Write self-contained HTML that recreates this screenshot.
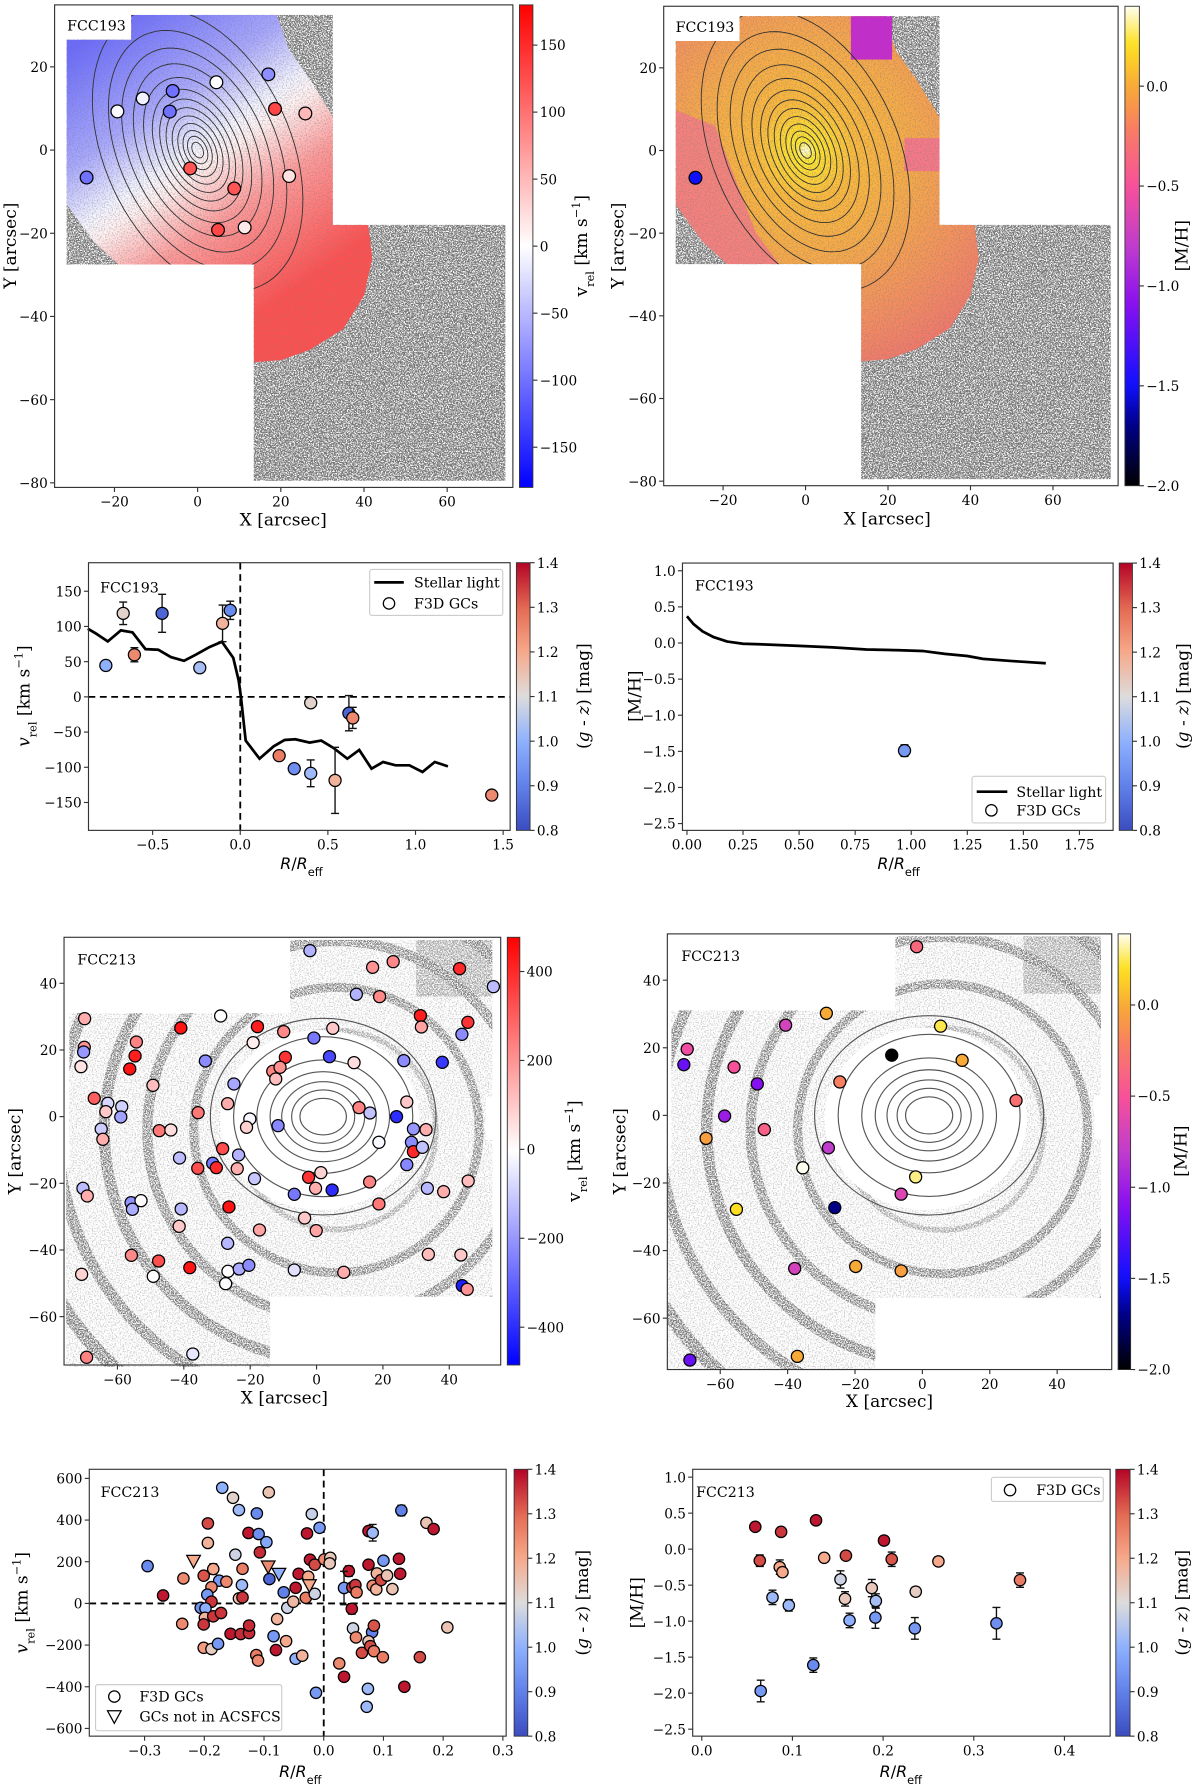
<!DOCTYPE html>
<html><head><meta charset="utf-8">
<style>
html,body{margin:0;padding:0;background:#fff;}
svg{display:block;font-family:"DejaVu Serif","Liberation Serif",serif;}
</style></head>
<body>
<svg id="fig" xmlns="http://www.w3.org/2000/svg" width="1200" height="1787" viewBox="0 0 1055 1571" preserveAspectRatio="none">
<defs>
<filter id="spkL" filterUnits="userSpaceOnUse" x="0" y="0" width="1055" height="1571">
<feTurbulence type="fractalNoise" baseFrequency="0.85" numOctaves="2" seed="3" result="n"/>
<feColorMatrix in="n" type="matrix" values="0 0 0 0 0.2  0 0 0 0 0.2  0 0 0 0 0.2  7 0 0 0 -3.55"/>
</filter>
<filter id="spkH" filterUnits="userSpaceOnUse" x="0" y="0" width="1055" height="1571">
<feTurbulence type="fractalNoise" baseFrequency="0.9" numOctaves="2" seed="7" result="n"/>
<feColorMatrix in="n" type="matrix" values="0 0 0 0 0.18  0 0 0 0 0.18  0 0 0 0 0.18  7 0 0 0 -3.0"/>
</filter>
</defs>
</svg>
<script>
// ---------------- DATA ----------------
const aX = [17.0,4.5,-13.2,-6.0,-19.3,-6.7,18.6,25.9,-1.8,22.0,8.8,-26.7,4.9,11.3];
const aY = [18.2,16.3,12.4,14.2,9.3,9.25,9.9,8.8,-4.4,-6.25,-9.25,-6.6,-19.2,-18.6];
const aV = [-80,0,-10,-100,-5,-100,130,50,120,20,120,-100,130,15];
const bX = [-26.7];
const bY = [-6.6];
const bM = [-1.5];
const cR = [-0.767,-0.668,-0.604,-0.446,-0.231,-0.101,-0.057,0.402,0.620,0.642,0.222,0.308,0.402,0.541,1.435];
const cV = [44.6,118.6,59.8,118.6,41.3,104.4,122.9,-8.5,-23.2,-29.9,-83.5,-102,-108.6,-118.6,-139.5];
const cErr = [7,16,10,27,6,26,13,3,25,15,5,5,19,47,4];
const cGZ = [1.0,1.12,1.25,0.85,1.03,1.18,0.92,1.12,0.85,1.25,1.27,0.93,1.02,1.18,1.25];
const cLineR = [-0.870,-0.822,-0.756,-0.681,-0.615,-0.541,-0.468,-0.396,-0.321,-0.251,-0.176,-0.105,-0.040,-0.009,0.004,0.031,0.110,0.191,0.253,0.314,0.396,0.462,0.532,0.611,0.679,0.749,0.815,0.886,0.965,1.040,1.110,1.185];
const cLineV = [96.8,89.7,78.7,94.4,91.6,67.8,66.9,56.5,51.2,60.2,70.7,78.3,55.5,23.2,-0.5,-62.1,-87.8,-70.2,-61.2,-60.2,-65.0,-62.1,-72.6,-87.8,-75.4,-102,-92.5,-97.2,-97.2,-106.7,-92.5,-98.7];
const dLineR = [0,0.03,0.07,0.12,0.18,0.25,0.35,0.5,0.65,0.8,0.95,1.05,1.15,1.25,1.32,1.45,1.6];
const dLineM = [0.37,0.26,0.16,0.08,0.02,-0.01,-0.02,-0.04,-0.06,-0.09,-0.1,-0.11,-0.15,-0.18,-0.22,-0.25,-0.28];
const dR = [0.97];
const dM = [-1.49];
const dErr = [0.08];
const dGZ = [0.95];
const eX = [-2.0,16.9,23.1,43.1,53.3,12.0,19.0,31.3,31.6,45.6,43.8,37.9,-28.9,-40.9,-17.8,-9.9,4.9,-19.1,-0.8,-9.4,3.9,11.3,26.3,-13.2,-11.0,-12.3,-33.5,-24.9,-26.8,-35.7,-49.3,-69.9,-70.0,-70.2,-71.0,-54.3,-54.7,-56.3,-67.0,-62.9,-63.5,-58.7,-59.0,-64.9,-64.4,-47.4,-43.9,-20.1,-21.1,-11.6,12.8,16.1,24.1,27.2,29.2,33.0,18.8,28.6,29.2,31.9,27.2,-28.3,-23.5,-41.3,-31.3,-30.2,-35.8,-23.9,-18.7,-2.4,1.3,-0.3,-6.7,4.7,16.0,18.8,33.4,38.3,45.7,-70.4,-69.1,-55.9,-55.5,-52.9,-40.8,-41.4,-26.4,-17.2,-3.6,-0.1,-26.8,-55.8,-47.6,-38.2,-70.8,-49.2,-26.7,-27.4,-23.3,-20.4,-6.7,8.2,33.7,43.5,43.9,45.4,-69.3,-37.3];
const eY = [49.8,44.8,46.5,44.4,39.0,36.7,36.0,30.3,26.9,28.3,24.7,16.3,30.2,26.6,27.0,25.5,26.5,22.2,23.6,17.8,18.0,16.2,16.8,13.6,14.8,11.3,16.7,9.8,3.9,1.2,9.4,29.4,20.8,19.4,15.0,22.4,18.2,14.3,5.5,4.0,1.5,3.0,-0.1,-3.7,-6.8,-4.2,-4.0,-0.7,-3.2,-2.7,2.7,1.1,0,4.4,-3.7,-3.9,-7.7,-7.7,-10.5,-9.2,-14.4,-9.6,-11.5,-12.4,-14.0,-15.3,-15.5,-15.6,-18.6,-18.2,-16.8,-21.5,-23.3,-22.0,-19.6,-26.2,-21.5,-22.5,-19.3,-21.5,-23.8,-25.8,-27.8,-25.2,-27.7,-32.9,-27.1,-34.0,-30.4,-34.2,-38.0,-41.6,-43.3,-45.3,-47.3,-47.9,-46.4,-50.1,-45.7,-44.6,-46.0,-46.7,-41.3,-41.5,-50.7,-51.8,-72.2,-71.2];
const eV = [-150,200,220,400,-130,-150,220,420,170,380,-220,-380,0,440,420,220,100,30,-260,380,-350,60,-220,230,200,120,-220,-170,150,250,120,150,200,-200,50,230,420,440,300,-80,100,-90,-180,-100,150,250,60,-20,80,-230,230,-120,-400,100,-200,150,-20,-220,400,-120,-230,330,-150,-130,-260,400,330,150,-110,380,80,150,-260,-400,230,250,-140,150,120,-130,150,-210,-160,0,-140,100,440,170,100,170,-140,220,330,440,80,0,0,-10,-160,-220,-60,150,120,100,-430,200,230,-50];
const fX = [-1.7,-28.5,-40.6,5.4,-69.8,-70.8,-55.9,-9.1,11.8,-49.0,-24.5,27.8,-58.7,-64.2,-46.9,-27.9,-35.5,-2.0,-6.3,-55.2,-26.0,-37.9,-19.8,-6.3,-69.0,-37.1];
const fY = [49.9,30.2,26.7,26.4,19.6,15.0,14.3,17.8,16.3,9.3,9.9,4.4,-0.2,-6.8,-4.2,-9.6,-15.5,-18.2,-23.3,-27.8,-27.3,-45.3,-44.7,-46.0,-72.4,-71.3];
const fM = [-0.35,0.0,-0.7,0.25,-0.55,-1.2,-0.5,-2.0,0.0,-1.1,-0.2,-0.3,-1.0,-0.05,-0.4,-0.8,0.4,0.3,-0.65,0.2,-1.7,-0.7,0.0,-0.05,-1.2,0.0];
const gR = [-0.170,-0.152,-0.142,-0.092,-0.112,-0.020,-0.007,-0.194,-0.194,-0.126,-0.109,-0.096,-0.028,-0.148,-0.107,-0.295,-0.185,-0.136,-0.235,-0.201,-0.175,-0.163,-0.188,-0.137,-0.269,-0.195,-0.188,-0.142,-0.136,-0.206,-0.198,-0.199,-0.201,-0.185,-0.172,-0.237,-0.156,-0.139,-0.125,-0.125,-0.201,-0.188,-0.177,-0.113,-0.110,-0.084,-0.080,-0.078,-0.063,-0.047,-0.036,-0.013,-0.091,-0.067,-0.061,-0.051,-0.047,-0.042,-0.030,-0.026,-0.023,-0.015,-0.015,0.001,0.011,0.010,0.042,0.034,0.048,0.053,0.055,0.047,0.049,0.054,0.064,0.075,0.082,0.075,0.089,0.082,0.088,0.096,0.100,0.106,0.115,0.126,0.128,0.130,0.172,0.184,0.081,0.084,0.075,0.078,0.084,0.099,0.161,0.207,0.026,0.034,0.074,0.072,0.135];
const gV = [555,507,448,533,432,429,363,384,290,338,333,294,336,234,245,179,165,166,120,133,109,104,78,88,38,42,8,24,29,-21,-24,-69,-101,-62,-46,-98,-146,-147,-142,-106,-213,-219,-194,-248,-274,-157,-224,-75,-181,-266,-251,-429,117,53,-21,8,75,142,27,128,210,186,46,211,219,192,155,74,77,88,53,-26,-120,-163,-237,347,339,186,144,85,67,112,205,134,69,214,142,446,387,357,-138,-107,-182,-205,-229,-258,-258,-115,-288,-352,-410,-496,-400];
const gGZ = [1.0,1.12,1.02,1.15,0.92,1.07,0.95,1.33,1.18,1.38,0.93,0.98,1.38,1.08,1.36,0.92,1.2,1.27,1.25,1.32,0.95,1.25,1.25,1.02,1.38,0.95,1.35,1.15,1.35,0.93,1.0,1.18,1.35,1.35,1.35,1.25,1.38,1.36,1.36,1.36,1.22,1.13,0.95,1.27,1.25,0.95,1.38,1.18,1.2,1.0,1.18,0.95,0.85,0.9,1.08,1.17,1.38,1.38,1.27,1.2,1.38,1.33,1.08,1.25,1.14,1.14,1.38,0.95,1.35,1.35,1.27,1.38,1.08,1.25,1.33,1.38,1.02,1.38,1.18,1.25,1.18,1.33,0.95,1.15,1.15,1.38,1.38,0.9,1.15,1.38,0.9,1.32,1.15,1.33,1.27,1.27,1.33,1.15,1.25,1.38,1.02,1.02,1.38];
const gErr = [0,0,0,0,0,0,0,0,0,0,0,0,0,0,0,20,25,0,0,0,0,20,0,0,0,0,0,0,0,0,0,0,0,0,0,0,0,0,0,0,0,0,0,0,0,0,0,0,0,0,0,0,0,0,0,0,0,0,0,0,0,0,0,0,0,0,25,80,0,0,0,25,10,0,0,0,40,0,0,0,0,0,0,0,0,0,0,25,0,0,0,0,0,0,0,0,0,0,15,0,0,0,0];
const gTriR = [-0.218,-0.093,-0.075,-0.024];
const gTriV = [203,176,141,86];
const gTriGZ = [1.2,1.25,1.0,1.2];
const hR = [0.059,0.064,0.0875,0.086,0.089,0.078,0.096,0.065,0.126,0.135,0.123,0.159,0.153,0.158,0.163,0.1875,0.192,0.1915,0.201,0.2095,0.236,0.235,0.261,0.325,0.351];
const hM = [0.31,-0.16,0.24,-0.25,-0.32,-0.67,-0.78,-1.97,0.40,-0.12,-1.61,-0.09,-0.42,-0.69,-0.99,-0.54,-0.72,-0.95,0.12,-0.14,-0.59,-1.10,-0.17,-1.03,-0.43];
const hErr = [0.03,0.08,0.03,0.1,0.06,0.1,0.08,0.15,0.03,0.06,0.1,0.03,0.12,0.1,0.1,0.12,0.1,0.15,0.05,0.1,0.06,0.15,0.06,0.22,0.1];
const hGZ = [1.38,1.33,1.35,1.2,1.2,1.02,1.02,0.95,1.38,1.2,0.92,1.33,1.08,1.14,1.0,1.14,1.03,0.95,1.38,1.32,1.13,0.95,1.2,0.93,1.27];

// ---------------- HELPERS ----------------
const NS = 'http://www.w3.org/2000/svg';
const svg = document.getElementById('fig');
const defs = svg.querySelector('defs');
function mk(tag, parent){ const e=document.createElementNS(NS,tag); (parent||svg).appendChild(e); return e; }
function hex(c){return [parseInt(c.slice(1,3),16),parseInt(c.slice(3,5),16),parseInt(c.slice(5,7),16)];}
function interp(stops,t){ t=Math.max(0,Math.min(1,t));
  for(let i=1;i<stops.length;i++){ if(t<=stops[i][0]){ const a=stops[i-1],b=stops[i]; const f=(t-a[0])/((b[0]-a[0])||1);
    const ca=hex(a[1]),cb=hex(b[1]); return 'rgb('+ca.map((v,k)=>Math.round(v+(cb[k]-v)*f)).join(',')+')'; } }
  return stops[stops.length-1][1]; }
const CW = [[0,'#3b4cc0'],[0.17,'#6282ea'],[0.33,'#8db0fe'],[0.5,'#dddcdc'],[0.67,'#f7a889'],[0.83,'#e36a53'],[1,'#b40426']];
const BWR = [[0,'#0000ff'],[0.5,'#ffffff'],[1,'#ff0000']];
const MET = [[0,'#000000'],[0.13,'#00008c'],[0.21,'#1010ff'],[0.38,'#8a10f0'],[0.5,'#c03ccc'],[0.625,'#f8509a'],[0.75,'#f88060'],[0.83,'#f8a838'],[0.92,'#fde020'],[1,'#fffff0']];
function gzCol(v){return interp(CW,(v-0.8)/0.6);}
function metCol(v){return interp(MET,(v+2.0)/2.4);}

function axes(box,xr,yr){
  const [x0,y0,x1,y1]=box;
  return {box, sx:v=>x0+(v-xr[0])/(xr[1]-xr[0])*(x1-x0), sy:v=>y1-(v-yr[0])/(yr[1]-yr[0])*(y1-y0)};
}
function fmt(v,d){ const s=Math.abs(v).toFixed(d); return (v<0?'\u2212':'')+s; }
function frame(ax,name){
  const r=mk('rect'); const [x0,y0,x1,y1]=ax.box;
  r.setAttribute('x',x0);r.setAttribute('y',y0);r.setAttribute('width',x1-x0);r.setAttribute('height',y1-y0);
  r.setAttribute('fill','none');r.setAttribute('stroke','#333');r.setAttribute('stroke-width','1');
  
  
}
function xticks(ax,vals,d,name){
  const g=mk('g');
  
  
  vals.forEach(v=>{ const x=ax.sx(v), y=ax.box[3];
    const l=mk('line',g); l.setAttribute('x1',x);l.setAttribute('x2',x);l.setAttribute('y1',y);l.setAttribute('y2',y+4);l.setAttribute('stroke','#333');
    const t=mk('text',g); t.setAttribute('x',x);t.setAttribute('y',y+17);t.setAttribute('text-anchor','middle');t.setAttribute('font-size','12');t.textContent=fmt(v,d);
    
    
  });
}
function yticks(ax,vals,d,name){
  const g=mk('g');
  
  
  vals.forEach(v=>{ const y=ax.sy(v), x=ax.box[0];
    const l=mk('line',g); l.setAttribute('x1',x-4);l.setAttribute('x2',x);l.setAttribute('y1',y);l.setAttribute('y2',y);l.setAttribute('stroke','#333');
    const t=mk('text',g); t.setAttribute('x',x-6);t.setAttribute('y',y+4.5);t.setAttribute('text-anchor','end');t.setAttribute('font-size','12');t.textContent=fmt(v,d);
    
    
  });
}
let gid=0;
function cbar(box,stops,lo,hi,vals,d,name){
  const id='cg'+(gid++);
  const lg=mk('linearGradient',defs); lg.setAttribute('id',id);lg.setAttribute('x1','0');lg.setAttribute('y1','1');lg.setAttribute('x2','0');lg.setAttribute('y2','0');
  for(let i=0;i<=40;i++){ const s=mk('stop',lg); s.setAttribute('offset',i/40); s.setAttribute('stop-color',interp(stops,i/40)); }
  const g=mk('g');
  
  
  const [x0,y0,x1,y1]=box;
  const r=mk('rect',g); r.setAttribute('x',x0);r.setAttribute('y',y0);r.setAttribute('width',x1-x0);r.setAttribute('height',y1-y0);
  r.setAttribute('fill','url(#'+id+')');r.setAttribute('stroke','#333');r.setAttribute('stroke-width','0.8');
  vals.forEach(v=>{ const y=y1-(v-lo)/(hi-lo)*(y1-y0);
    const l=mk('line',g); l.setAttribute('x1',x1);l.setAttribute('x2',x1+4);l.setAttribute('y1',y);l.setAttribute('y2',y);l.setAttribute('stroke','#333');
    const t=mk('text',g); t.setAttribute('x',x1+6);t.setAttribute('y',y+4.5);t.setAttribute('font-size','12');t.textContent=fmt(v,d);
    
    
  });
}
function label(x,y,html,rot,size,name){
  const t=mk('text'); t.setAttribute('x',x);t.setAttribute('y',y);t.setAttribute('text-anchor','middle');t.setAttribute('font-size',size||14);
  if(rot) t.setAttribute('transform','rotate(-90 '+x+' '+y+')');
  t.innerHTML=html;
  
  
  return t;
}
function dot(parent,x,y,col,r){
  const c=mk('circle',parent); c.setAttribute('cx',x);c.setAttribute('cy',y);c.setAttribute('r',r||5.3);
  c.setAttribute('fill',col);c.setAttribute('stroke','#000');c.setAttribute('stroke-width','1.1');
  return c;
}
function errbar(parent,x,ylo,yhi){
  const p=mk('path',parent);
  p.setAttribute('d','M'+x+' '+ylo+'V'+yhi+'M'+(x-3.5)+' '+ylo+'H'+(x+3.5)+'M'+(x-3.5)+' '+yhi+'H'+(x+3.5));
  p.setAttribute('stroke','#111');p.setAttribute('stroke-width','1.2');p.setAttribute('fill','none');
}
function pathFrom(pts){ return 'M'+pts.map(p=>p[0].toFixed(1)+' '+p[1].toFixed(1)).join('L')+'Z'; }
function ellPts(ax,cx,cy,a,b,ang,n){ const pts=[]; const ca=Math.cos(ang),sa=Math.sin(ang);
  for(let i=0;i<(n||72);i++){ const t=i/(n||72)*2*Math.PI; const u=a*Math.cos(t),v=b*Math.sin(t);
    pts.push([ax.sx(cx+u*ca-v*sa),ax.sy(cy+u*sa+v*ca)]); } return pts; }
function clipPath(d){ const id='cp'+(gid++); const cp=mk('clipPath',defs); cp.setAttribute('id',id); const p=mk('path',cp); p.setAttribute('d',d); return id; }
function speckRect(parent,box,filt){ const r=mk('rect',parent); r.setAttribute('x',box[0]);r.setAttribute('y',box[1]);r.setAttribute('width',box[2]-box[0]);r.setAttribute('height',box[3]-box[1]);r.setAttribute('fill','#000');r.setAttribute('filter','url(#'+filt+')'); }
function nameBox(x,y,w,h,txt,name){
  const r=mk('rect'); r.setAttribute('x',x);r.setAttribute('y',y);r.setAttribute('width',w);r.setAttribute('height',h);r.setAttribute('fill','#fff');
  
  
  const t=mk('text'); t.setAttribute('x',x+6);t.setAttribute('y',y+h-6);t.setAttribute('font-size','12.5');t.textContent=txt;
  
  
}
const VREL_UP='v<tspan baseline-shift="sub" font-size="10">rel</tspan> [km s<tspan baseline-shift="super" font-size="10">\u22121</tspan>]';
const VREL_IT='<tspan font-style="italic">v</tspan><tspan baseline-shift="sub" font-size="10">rel</tspan> [km s<tspan baseline-shift="super" font-size="10">\u22121</tspan>]';
const RREFF='<tspan font-family="DejaVu Sans, Liberation Sans, sans-serif" font-style="italic">R</tspan><tspan font-family="DejaVu Sans, Liberation Sans, sans-serif">/</tspan><tspan font-family="DejaVu Sans, Liberation Sans, sans-serif" font-style="italic">R</tspan><tspan font-family="DejaVu Sans, Liberation Sans, sans-serif" baseline-shift="sub" font-size="10">eff</tspan>';
const GZ='(<tspan font-style="italic">g</tspan> - <tspan font-style="italic">z</tspan>) [mag]';

// --------- FCC193 maps (A, B) ----------
function fcc193Map(box,mode){
  const ax=axes(box,[-34.4,75.8],[-81.1,34.9]);
  const g=mk('g');
  
  
  const fov1=[[-31.5,26.5],[-16,26.5],[-16,32.5],[32.5,32.5],[32.5,-27.5],[-31.5,-27.5]].map(p=>[ax.sx(p[0]),ax.sy(p[1])]);
  const fov2=[[13.5,-18],[74,-18],[74,-79.5],[13.5,-79.5]].map(p=>[ax.sx(p[0]),ax.sy(p[1])]);
  const fovD=pathFrom(fov1)+pathFrom(fov2);
  const cid=clipPath(fovD);
  const gs=mk('g',g); gs.setAttribute('clip-path','url(#'+cid+')');
  speckRect(gs,[ax.sx(-32),ax.sy(33),ax.sx(33),ax.sy(-28)],'spkL');
  speckRect(gs,[ax.sx(13),ax.sy(-17),ax.sx(75),ax.sy(-80)],'spkH');
  // colored region
  const creg=[[-31.5,27],[-16,27],[-16,32.5],[19,32.5],[22,24],[27,17],[32.5,8],[32.5,-18],[41,-18],[42,-26],[40,-35],[35,-43],[27,-48],[20,-50.5],[13.5,-51],[13.5,-27.5],[-19,-27.5],[-25,-22],[-31.5,-13]].map(p=>[ax.sx(p[0]),ax.sy(p[1])]);
  const cid2=clipPath(pathFrom(creg));
  const gc=mk('g',gs); gc.setAttribute('clip-path','url(#'+cid2+')');
  const id='fg'+(gid++);
  if(mode==='vel'){
    const lg=mk('linearGradient',defs); lg.setAttribute('id',id); lg.setAttribute('gradientUnits','userSpaceOnUse');
    lg.setAttribute('x1',ax.sx(-22));lg.setAttribute('y1',ax.sy(30));lg.setAttribute('x2',ax.sx(22));lg.setAttribute('y2',ax.sy(-34));
    [[0,'#6a6aff'],[0.3,'#a8a8ff'],[0.47,'#f4f4ff'],[0.53,'#fff0f0'],[0.7,'#ff9a9a'],[1,'#ff5050']].forEach(s=>{const st=mk('stop',lg);st.setAttribute('offset',s[0]);st.setAttribute('stop-color',s[1]);});
  } else {
    const rg=mk('radialGradient',defs); rg.setAttribute('id',id); rg.setAttribute('gradientUnits','userSpaceOnUse');
    rg.setAttribute('cx',ax.sx(0));rg.setAttribute('cy',ax.sy(0));rg.setAttribute('r',ax.sx(60)-ax.sx(0));
    [[0,'#fffce0'],[0.04,'#ffe830'],[0.2,'#fbb93c'],[0.45,'#f6a84a'],[0.7,'#f5905e'],[1,'#f07070']].forEach(s=>{const st=mk('stop',rg);st.setAttribute('offset',s[0]);st.setAttribute('stop-color',s[1]);});
  }
  const pr=mk('rect',gc); pr.setAttribute('x',box[0]);pr.setAttribute('y',box[1]);pr.setAttribute('width',box[2]-box[0]);pr.setAttribute('height',box[3]-box[1]);pr.setAttribute('fill','url(#'+id+')');
  if(mode!=='vel'){
    const pk=mk('path',gc); pk.setAttribute('d',pathFrom([[-32,10],[-22,6],[-12,-20],[-6,-28],[-32,-28]].map(p=>[ax.sx(p[0]),ax.sy(p[1])]))); pk.setAttribute('fill','#f47a86'); pk.setAttribute('opacity','0.85');
    const pk2=mk('rect',gc); pk2.setAttribute('x',ax.sx(24));pk2.setAttribute('y',ax.sy(3));pk2.setAttribute('width',ax.sx(33)-ax.sx(24));pk2.setAttribute('height',ax.sy(-5)-ax.sy(3));pk2.setAttribute('fill','#f67888');
    const mg=mk('rect',gs); mg.setAttribute('x',ax.sx(11));mg.setAttribute('y',ax.sy(32.5));mg.setAttribute('width',ax.sx(21)-ax.sx(11));mg.setAttribute('height',ax.sy(22)-ax.sy(32.5));mg.setAttribute('fill','#c030c8');
  }
  const gs2=mk('g',gc); gs2.setAttribute('opacity','0.35'); speckRect(gs2,[ax.sx(-32),ax.sy(33),ax.sx(45),ax.sy(-55)],'spkL');
  const cang=115*Math.PI/180;
  [2,3.5,5,6.8,8.7,10.8,13,15.5,18.5,22,26,30.5,36].forEach(a=>{
    const p=mk('path',gs); p.setAttribute('d',pathFrom(ellPts(ax,0,0,a,a*0.62,cang,80)));
    p.setAttribute('fill','none');p.setAttribute('stroke','#333');p.setAttribute('stroke-width','0.8');
  });
  return ax;
}
// Panel A
const axA=fcc193Map([48,4.3,450.9,428.5],'vel');
{ const g=mk('g');
  
  
  aX.forEach((x,i)=>{ const c=dot(g,axA.sx(x),axA.sy(aY[i]),interp(BWR,(aV[i]+180)/360),5.6);
    
     }); }
nameBox(53,9,58,24,'FCC193','panel-title-fcc193-vel');
frame(axA,'fcc193-velocity-map');
xticks(axA,[-20,0,20,40,60],0,'fcc193-vel-map');
yticks(axA,[20,0,-20,-40,-60,-80],0,'fcc193-vel-map');
cbar([456.7,4.3,468.5,428.5],BWR,-180,180,[150,100,50,0,-50,-100,-150],0,'velocity-colorbar-fcc193');
label(249,462,'X [arcsec]',false,15,'x-axis-title');
label(14,216,'Y [arcsec]',true,15,'y-axis-title');
label(516,216,VREL_UP,true,15,'colorbar-title');

// Panel B
const axB=fcc193Map([583.5,5.5,983,427],'met');
{ const g=mk('g');
  
  
  bX.forEach((x,i)=>{ const c=dot(g,axB.sx(x),axB.sy(bY[i]),metCol(bM[i]),5.6);
    
     }); }
nameBox(588,10,58,24,'FCC193','panel-title-fcc193-met');
frame(axB,'fcc193-metallicity-map');
xticks(axB,[-20,0,20,40,60],0,'fcc193-met-map');
yticks(axB,[20,0,-20,-40,-60,-80],0,'fcc193-met-map');
cbar([989,5.5,1001.7,427],MET,-2.0,0.4,[0.0,-0.5,-1.0,-1.5,-2.0],1,'metallicity-colorbar-fcc193');
label(780,461,'X [arcsec]',false,15,'x-axis-title');
label(548,216,'Y [arcsec]',true,15,'y-axis-title');
label(1044,216,'[M/H]',true,15,'colorbar-title');

// Panel C
const axC=axes([77.8,494.7,448.5,730],[-0.866,1.54],[-189.6,190.5]);
{ const g=mk('g');
  
  
  const z1=mk('line',g); z1.setAttribute('x1',axC.box[0]);z1.setAttribute('x2',axC.box[2]);z1.setAttribute('y1',axC.sy(0));z1.setAttribute('y2',axC.sy(0));z1.setAttribute('stroke','#000');z1.setAttribute('stroke-width','1.6');z1.setAttribute('stroke-dasharray','6 4');
  const z2=mk('line',g); z2.setAttribute('x1',axC.sx(0));z2.setAttribute('x2',axC.sx(0));z2.setAttribute('y1',axC.box[1]);z2.setAttribute('y2',axC.box[3]);z2.setAttribute('stroke','#000');z2.setAttribute('stroke-width','1.6');z2.setAttribute('stroke-dasharray','6 4');
  const pl=mk('polyline',g); pl.setAttribute('points',cLineR.map((r,i)=>axC.sx(r)+','+axC.sy(cLineV[i])).join(' '));
  pl.setAttribute('fill','none');pl.setAttribute('stroke','#000');pl.setAttribute('stroke-width','2.4');
  
  
  cR.forEach((r,i)=>{ errbar(g,axC.sx(r),axC.sy(cV[i]-cErr[i]),axC.sy(cV[i]+cErr[i])); const c=dot(g,axC.sx(r),axC.sy(cV[i]),gzCol(cGZ[i]));
    
     });
}
frame(axC,'fcc193-velocity-profile');
xticks(axC,[-0.5,0,0.5,1.0,1.5],1,'fcc193-vel-profile');
yticks(axC,[150,100,50,0,-50,-100,-150],0,'fcc193-vel-profile');
label(88,521,'FCC193',false,12.5,'panel-title').setAttribute('text-anchor','start');
cbar([454,494.7,466,730],CW,0.8,1.4,[1.4,1.3,1.2,1.1,1.0,0.9,0.8],1,'gz-colorbar-c');
label(265,764,RREFF,false,14,'x-axis-title');
label(26,612,VREL_IT,true,15,'y-axis-title');
label(518,612,GZ,true,15,'colorbar-title');
{ const g=mk('g');
  
  
  const r=mk('rect',g); r.setAttribute('x',325);r.setAttribute('y',500.6);r.setAttribute('width',117);r.setAttribute('height',40.4);r.setAttribute('rx',2);r.setAttribute('fill','#fff');r.setAttribute('stroke','#ccc');
  const l=mk('line',g); l.setAttribute('x1',329);l.setAttribute('x2',355);l.setAttribute('y1',512);l.setAttribute('y2',512);l.setAttribute('stroke','#000');l.setAttribute('stroke-width','2.4');
  const t1=mk('text',g); t1.setAttribute('x',364);t1.setAttribute('y',516.5);t1.setAttribute('font-size','12.5');t1.textContent='Stellar light';
  dot(g,342,530.5,'#fff',5);
  const t2=mk('text',g); t2.setAttribute('x',364);t2.setAttribute('y',535);t2.setAttribute('font-size','12.5');t2.textContent='F3D GCs';
}

// Panel D
const axD=axes([600,495,978.6,730],[-0.02,1.90],[-2.594,1.107]);
{ const g=mk('g');
  
  
  const pl=mk('polyline',g); pl.setAttribute('points',dLineR.map((r,i)=>axD.sx(r)+','+axD.sy(dLineM[i])).join(' '));
  pl.setAttribute('fill','none');pl.setAttribute('stroke','#000');pl.setAttribute('stroke-width','2.4');pl.setAttribute('stroke-linejoin','round');
  
  
  dR.forEach((r,i)=>{ errbar(g,axD.sx(r),axD.sy(dM[i]-dErr[i]),axD.sy(dM[i]+dErr[i])); const c=dot(g,axD.sx(r),axD.sy(dM[i]),gzCol(dGZ[i]));
    
     });
}
frame(axD,'fcc193-metallicity-profile');
xticks(axD,[0,0.25,0.5,0.75,1.0,1.25,1.5,1.75],2,'fcc193-met-profile');
yticks(axD,[1.0,0.5,0,-0.5,-1.0,-1.5,-2.0,-2.5],1,'fcc193-met-profile');
label(611,519,'FCC193',false,12.5,'panel-title').setAttribute('text-anchor','start');
cbar([984,495,995.6,730],CW,0.8,1.4,[1.4,1.3,1.2,1.1,1.0,0.9,0.8],1,'gz-colorbar-d');
label(790,764,RREFF,false,14,'x-axis-title');
label(563,612,'[M/H]',true,15,'y-axis-title');
label(1045,612,GZ,true,15,'colorbar-title');
{ const g=mk('g');
  
  
  const r=mk('rect',g); r.setAttribute('x',854.6);r.setAttribute('y',682.5);r.setAttribute('width',117.4);r.setAttribute('height',41);r.setAttribute('rx',2);r.setAttribute('fill','#fff');r.setAttribute('stroke','#ccc');
  const l=mk('line',g); l.setAttribute('x1',858.7);l.setAttribute('x2',885.6);l.setAttribute('y1',696);l.setAttribute('y2',696);l.setAttribute('stroke','#000');l.setAttribute('stroke-width','2.4');
  const t1=mk('text',g); t1.setAttribute('x',893.6);t1.setAttribute('y',700.5);t1.setAttribute('font-size','12.5');t1.textContent='Stellar light';
  dot(g,871.6,712.4,'#fff',5);
  const t2=mk('text',g); t2.setAttribute('x',893.6);t2.setAttribute('y',717);t2.setAttribute('font-size','12.5');t2.textContent='F3D GCs';
}

// --------- FCC213 maps (E, F) ----------
function fcc213Map(box,xr,yr,name){
  const ax=axes(box,xr,yr);
  const g=mk('g');
  
  
  const reg=[[-74.5,31],[-8,31],[-8,53],[53,53],[53,6],[51,6],[51,-7],[53,-7],[53,-54],[-14,-54],[-14,-75],[-75.5,-75],[-75.5,-15],[-74.5,-15]].map(p=>[ax.sx(p[0]),ax.sy(p[1])]);
  const cid=clipPath(pathFrom(reg));
  const gs=mk('g',g); gs.setAttribute('clip-path','url(#'+cid+')');
  const g1=mk('g',gs); g1.setAttribute('opacity','0.35'); speckRect(g1,[box[0],box[1],box[2],box[3]],'spkL');
  // spiral bands via mask of speckle
  const mid='mk'+(gid++);
  const m=mk('mask',defs); m.setAttribute('id',mid); m.setAttribute('maskUnits','userSpaceOnUse');
  m.setAttribute('x',0);m.setAttribute('y',0);m.setAttribute('width',1055);m.setAttribute('height',1571);
  [[30,0.6,5],[43,0.9,8],[57,0.9,9],[70,0.95,10],[84,0.95,10],[98,1,12],[112,1,12]].forEach(b=>{
    const c=mk('circle',m); c.setAttribute('cx',ax.sx(6));c.setAttribute('cy',ax.sy(-4));c.setAttribute('r',(ax.sx(b[0])-ax.sx(0)));
    c.setAttribute('fill','none');c.setAttribute('stroke','#fff');c.setAttribute('stroke-width',b[2]);c.setAttribute('opacity',b[1]);
  });
  const tr=mk('rect',m); tr.setAttribute('x',ax.sx(30));tr.setAttribute('y',ax.sy(54));tr.setAttribute('width',ax.sx(54)-ax.sx(30));tr.setAttribute('height',ax.sy(36)-ax.sy(54));tr.setAttribute('fill','#fff');tr.setAttribute('opacity','0.6');
  const gb=mk('g',gs); gb.setAttribute('mask','url(#'+mid+')');
  speckRect(gb,[box[0],box[1],box[2],box[3]],'spkH');
  // white central region
  const wc=mk('ellipse',gs); wc.setAttribute('cx',ax.sx(1));wc.setAttribute('cy',ax.sy(-1));wc.setAttribute('rx',ax.sx(30)-ax.sx(0));wc.setAttribute('ry',ax.sy(0)-ax.sy(27));wc.setAttribute('fill','#fff');
  [[7,5.5],[9.5,8],[12.5,10.5],[16,13.5],[20,17],[27,24],[34,29.5]].forEach(e=>{
    const c=mk('ellipse',gs); c.setAttribute('cx',ax.sx(2));c.setAttribute('cy',ax.sy(0));c.setAttribute('rx',ax.sx(e[0])-ax.sx(0));c.setAttribute('ry',ax.sy(0)-ax.sy(e[1]));
    c.setAttribute('fill','none');c.setAttribute('stroke','#555');c.setAttribute('stroke-width','1');
  });
  return ax;
}
const axE=fcc213Map([56.3,824,440.2,1200],[-76.1,55.5],[-74.5,53.8],'fcc213-velocity-map');
{ const g=mk('g');
  
  
  eX.forEach((x,i)=>{ const c=dot(g,axE.sx(x),axE.sy(eY[i]),interp(BWR,(eV[i]+485)/962),5.3);
    
     }); }
frame(axE,'fcc213-velocity-map');
label(68,848,'FCC213',false,12.5,'panel-title').setAttribute('text-anchor','start');
xticks(axE,[-60,-40,-20,0,20,40],0,'fcc213-vel-map');
yticks(axE,[40,20,0,-20,-40,-60],0,'fcc213-vel-map');
cbar([446,824,457,1200],BWR,-485,477,[400,200,0,-200,-400],0,'velocity-colorbar-fcc213');
label(250,1234,'X [arcsec]',false,15,'x-axis-title');
label(18,1012,'Y [arcsec]',true,15,'y-axis-title');
label(510,1012,VREL_UP,true,15,'colorbar-title');

const axF=fcc213Map([586.7,821,977.4,1204],[-75.7,56.2],[-75.2,53.7],'fcc213-metallicity-map');
{ const g=mk('g');
  
  
  fX.forEach((x,i)=>{ const c=dot(g,axF.sx(x),axF.sy(fY[i]),metCol(fM[i]),5.3);
    
     }); }
frame(axF,'fcc213-metallicity-map');
label(599,845,'FCC213',false,12.5,'panel-title').setAttribute('text-anchor','start');
xticks(axF,[-60,-40,-20,0,20,40],0,'fcc213-met-map');
yticks(axF,[40,20,0,-20,-40,-60],0,'fcc213-met-map');
cbar([983,821,994,1204],MET,-2.0,0.39,[0.0,-0.5,-1.0,-1.5,-2.0],1,'metallicity-colorbar-fcc213');
label(782,1237,'X [arcsec]',false,15,'x-axis-title');
label(550,1012,'Y [arcsec]',true,15,'y-axis-title');
label(1043,1012,'[M/H]',true,15,'colorbar-title');

// Panel G
const axG=axes([78.5,1291.7,445,1526.3],[-0.3926,0.3055],[-637,643.6]);
{ const g=mk('g');
  
  
  const z1=mk('line',g); z1.setAttribute('x1',axG.box[0]);z1.setAttribute('x2',axG.box[2]);z1.setAttribute('y1',axG.sy(0));z1.setAttribute('y2',axG.sy(0));z1.setAttribute('stroke','#000');z1.setAttribute('stroke-width','1.6');z1.setAttribute('stroke-dasharray','6 4');
  const z2=mk('line',g); z2.setAttribute('x1',axG.sx(0));z2.setAttribute('x2',axG.sx(0));z2.setAttribute('y1',axG.box[1]);z2.setAttribute('y2',axG.box[3]);z2.setAttribute('stroke','#000');z2.setAttribute('stroke-width','1.6');z2.setAttribute('stroke-dasharray','6 4');
  gR.forEach((r,i)=>{ if(gErr[i]>0) errbar(g,axG.sx(r),axG.sy(gV[i]-gErr[i]),axG.sy(gV[i]+gErr[i]));
    const c=dot(g,axG.sx(r),axG.sy(gV[i]),gzCol(gGZ[i]),5);
    
     });
  gTriR.forEach((r,i)=>{ const x=axG.sx(r), y=axG.sy(gTriV[i]); const p=mk('path',g);
    p.setAttribute('d','M'+(x-6)+' '+(y-5)+'L'+(x+6)+' '+(y-5)+'L'+x+' '+(y+6)+'Z');
    p.setAttribute('fill',gzCol(gTriGZ[i]));p.setAttribute('stroke','#000');p.setAttribute('stroke-width','1.1');
    
     });
}
frame(axG,'fcc213-velocity-profile');
xticks(axG,[-0.3,-0.2,-0.1,0,0.1,0.2,0.3],1,'fcc213-vel-profile');
yticks(axG,[600,400,200,0,-200,-400,-600],0,'fcc213-vel-profile');
label(88.5,1316,'FCC213',false,12.5,'panel-title').setAttribute('text-anchor','start');
cbar([452,1291.7,464,1526.3],CW,0.8,1.4,[1.4,1.3,1.2,1.1,1.0,0.9,0.8],1,'gz-colorbar-g');
label(264,1562,RREFF,false,14,'x-axis-title');
label(24,1409,VREL_IT,true,15,'y-axis-title');
label(517,1409,GZ,true,15,'colorbar-title');
{ const g=mk('g');
  
  
  const r=mk('rect',g); r.setAttribute('x',84);r.setAttribute('y',1481);r.setAttribute('width',163.7);r.setAttribute('height',40.5);r.setAttribute('rx',2);r.setAttribute('fill','#fff');r.setAttribute('stroke','#ccc');
  dot(g,100.5,1491.5,'#fff',5);
  const t1=mk('text',g); t1.setAttribute('x',122.5);t1.setAttribute('y',1496);t1.setAttribute('font-size','12.5');t1.textContent='F3D GCs';
  const p=mk('path',g); p.setAttribute('d','M94.5 1504L106.5 1504L100.5 1515Z'); p.setAttribute('fill','#fff');p.setAttribute('stroke','#000');p.setAttribute('stroke-width','1.1');
  const t2=mk('text',g); t2.setAttribute('x',122.5);t2.setAttribute('y',1513.5);t2.setAttribute('font-size','12.5');t2.textContent='GCs not in ACSFCS';
}

// Panel H
const axH=axes([609,1291.7,976,1526.3],[-0.010,0.4504],[-2.597,1.109]);
{ const g=mk('g');
  
  
  hR.forEach((r,i)=>{ errbar(g,axH.sx(r),axH.sy(hM[i]-hErr[i]),axH.sy(hM[i]+hErr[i]));
    const c=dot(g,axH.sx(r),axH.sy(hM[i]),gzCol(hGZ[i]),5);
    
     });
}
frame(axH,'fcc213-metallicity-profile');
xticks(axH,[0,0.1,0.2,0.3,0.4],1,'fcc213-met-profile');
yticks(axH,[1.0,0.5,0,-0.5,-1.0,-1.5,-2.0,-2.5],1,'fcc213-met-profile');
label(612,1316,'FCC213',false,12.5,'panel-title').setAttribute('text-anchor','start');
cbar([981,1291.7,993.5,1526.3],CW,0.8,1.4,[1.4,1.3,1.2,1.1,1.0,0.9,0.8],1,'gz-colorbar-h');
label(792,1562,RREFF,false,14,'x-axis-title');
label(565,1409,'[M/H]',true,15,'y-axis-title');
label(1044,1409,GZ,true,15,'colorbar-title');
{ const g=mk('g');
  
  
  const r=mk('rect',g); r.setAttribute('x',871.6);r.setAttribute('y',1298.7);r.setAttribute('width',98.4);r.setAttribute('height',21.3);r.setAttribute('rx',2);r.setAttribute('fill','#fff');r.setAttribute('stroke','#ccc');
  dot(g,888,1310,'#fff',5);
  const t=mk('text',g); t.setAttribute('x',911);t.setAttribute('y',1314.5);t.setAttribute('font-size','12.5');t.textContent='F3D GCs';
}
</script>
</body></html>
